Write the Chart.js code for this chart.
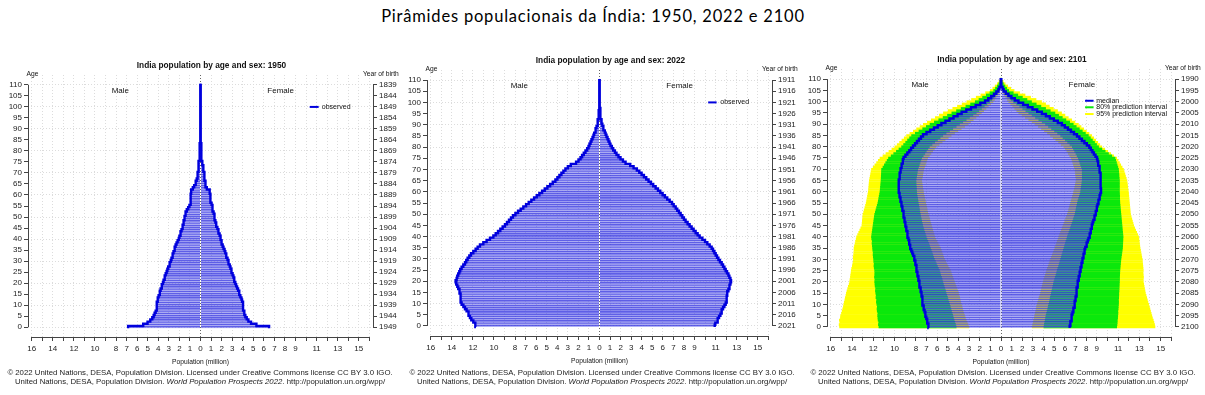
<!DOCTYPE html>
<html lang="pt">
<head>
<meta charset="utf-8">
<title>Pirâmides populacionais da Índia</title>
<script src="https://cdn.jsdelivr.net/npm/chart.js@4.4.1/dist/chart.umd.min.js"></script>
<style>
  html,body{margin:0;padding:0;background:#fff}
  body{position:relative;width:1205px;height:395px;overflow:hidden;font-family:"Liberation Sans",Arial,sans-serif;color:#222}
  #mainTitle{position:absolute;top:6px;left:0;width:1186px;text-align:center;font:16.5px Lato,"Open Sans",sans-serif;letter-spacing:0.8px;color:#000;white-space:nowrap}
  canvas{position:absolute}
  .foot{position:absolute;top:368px;width:420px;text-align:center;font-size:7.8px;line-height:9px;color:#222;white-space:nowrap}
</style>
</head>
<body>
<div id="mainTitle">Pirâmides populacionais da Índia: 1950, 2022 e 2100</div>
<canvas id="c1950"></canvas>
<canvas id="c2022"></canvas>
<canvas id="c2101"></canvas>
<div class="foot" style="left:-10px">© 2022 United Nations, DESA, Population Division. Licensed under Creative Commons license CC BY 3.0 IGO.<br>United Nations, DESA, Population Division. <i>World Population Prospects 2022</i>. http://population.un.org/wpp/</div>
<div class="foot" style="left:392px">© 2022 United Nations, DESA, Population Division. Licensed under Creative Commons license CC BY 3.0 IGO.<br>United Nations, DESA, Population Division. <i>World Population Prospects 2022</i>. http://population.un.org/wpp/</div>
<div class="foot" style="left:793px">© 2022 United Nations, DESA, Population Division. Licensed under Creative Commons license CC BY 3.0 IGO.<br>United Nations, DESA, Population Division. <i>World Population Prospects 2022</i>. http://population.un.org/wpp/</div>
<script>
/* ---------- dados (milhões, idades simples 0..110) ---------- */
const ageTicks = [0,5,10,15,20,25,30,35,40,45,50,55,60,65,70,75,80,85,90,95,100,105,110];
const xTickValues = [-16,-15,-14,-13,-12,-11,-10,-9,-8,-7,-6,-5,-4,-3,-2,-1,0,1,2,3,4,5,6,7,8,9,10,11,12,13,14,15,16];
const xTickLabels = ['16','','14','','12','','10','','8','7','6','5','4','3','2','1','0','1','2','3','4','5','6','7','8','9','','11','','13','','15',''];

const male1950 = [
6.86,5.43,5.02,4.76,4.57,4.44,4.35,4.25,4.19,4.16,
4.13,4.13,4.10,4.03,3.97,3.90,3.84,3.78,3.71,3.65,
3.56,3.50,3.44,3.37,3.30,3.21,3.14,3.06,2.98,2.90,
2.82,2.75,2.69,2.62,2.56,2.49,2.43,2.36,2.27,2.17,
2.06,2.00,1.94,1.87,1.80,1.73,1.68,1.63,1.59,1.54,
1.50,1.45,1.40,1.30,1.17,1.05,0.99,0.95,0.93,0.92,
0.91,0.90,0.88,0.73,0.60,0.51,0.43,0.36,0.32,0.28,
0.25,0.23,0.21,0.19,0.17,0.16,0.14,0.12,0.10,0.08,
0.07,0.06,0.055,0.05,0.045,0.04,0.035,0.03,0.025,0.02,
0.018,0.015,0.012,0.01,0.008,0.007,0.006,0.005,0.004,0.003,
0.003,0.002,0.002,0.002,0.001,0.001,0.001,0.001,0.001,0.001,
0.001];
const female1950 = [
6.50,5.30,4.79,4.54,4.38,4.25,4.20,4.13,4.05,4.03,
4.03,4.03,3.94,3.88,3.78,3.72,3.65,3.56,3.47,3.38,
3.30,3.24,3.18,3.12,3.04,2.98,2.91,2.84,2.77,2.70,
2.63,2.56,2.49,2.42,2.35,2.28,2.18,2.10,2.03,1.98,
1.94,1.88,1.81,1.74,1.68,1.60,1.53,1.47,1.41,1.37,
1.33,1.30,1.24,1.18,1.14,1.11,1.05,0.98,0.95,0.93,
0.92,0.89,0.86,0.60,0.52,0.48,0.44,0.41,0.38,0.36,
0.35,0.31,0.28,0.24,0.20,0.16,0.14,0.12,0.10,0.08,
0.07,0.06,0.055,0.05,0.045,0.04,0.035,0.03,0.025,0.02,
0.018,0.015,0.012,0.01,0.008,0.007,0.006,0.005,0.004,0.003,
0.003,0.002,0.002,0.002,0.001,0.001,0.001,0.001,0.001,0.001,
0.001];

const male2022 = [
11.71,11.80,11.96,12.15,12.28,12.37,12.44,12.60,12.75,12.90,
13.07,13.13,13.16,13.16,13.20,13.23,13.29,13.39,13.48,13.58,
13.64,13.54,13.48,13.39,13.29,13.20,13.07,12.91,12.75,12.63,
12.50,12.34,12.18,11.96,11.74,11.55,11.33,11.01,10.70,10.38,
10.06,9.84,9.62,9.40,9.18,8.96,8.77,8.58,8.39,8.20,
7.97,7.72,7.47,7.22,6.96,6.71,6.46,6.20,5.95,5.70,
5.44,5.19,4.94,4.68,4.43,4.18,3.99,3.80,3.61,3.42,
3.23,3.00,2.72,2.22,1.99,1.80,1.65,1.49,1.33,1.17,
1.04,0.95,0.85,0.76,0.66,0.57,0.50,0.42,0.35,0.28,
0.22,0.18,0.15,0.12,0.09,0.07,0.055,0.04,0.03,0.022,
0.016,0.012,0.009,0.006,0.004,0.003,0.002,0.002,0.001,0.001,
0.001];
const female2022 = [
10.92,10.98,11.14,11.23,11.33,11.46,11.52,11.61,11.71,11.84,
11.96,12.03,12.06,12.06,12.09,12.12,12.22,12.28,12.34,12.41,
12.47,12.41,12.31,12.22,12.09,11.96,11.84,11.71,11.58,11.42,
11.27,11.14,11.01,10.89,10.76,10.63,10.44,10.22,10.00,9.75,
9.49,9.30,9.11,8.92,8.73,8.54,8.35,8.16,8.00,7.85,
7.69,7.53,7.37,7.22,7.03,6.87,6.65,6.42,6.20,5.98,
5.76,5.54,5.32,5.09,4.87,4.65,4.43,4.21,3.99,3.77,
3.54,3.23,2.91,2.47,2.22,1.99,1.80,1.61,1.46,1.30,
1.17,1.04,0.95,0.85,0.76,0.66,0.58,0.50,0.42,0.34,
0.27,0.22,0.18,0.14,0.11,0.085,0.065,0.05,0.037,0.027,
0.020,0.014,0.010,0.007,0.005,0.003,0.002,0.002,0.001,0.001,
0.001];

/* 2101: mediana e intervalos de predição */
const maleMed2101 = [
6.79,6.84,6.90,6.95,7.02,7.08,7.12,7.18,7.24,7.28,
7.33,7.36,7.40,7.42,7.45,7.48,7.52,7.57,7.62,7.66,
7.70,7.73,7.78,7.82,7.87,7.90,7.93,7.98,8.02,8.06,
8.10,8.17,8.26,8.34,8.43,8.50,8.55,8.60,8.64,8.70,
8.74,8.78,8.83,8.87,8.91,8.96,9.00,9.04,9.08,9.12,
9.15,9.19,9.24,9.28,9.32,9.37,9.42,9.46,9.51,9.55,
9.60,9.61,9.62,9.62,9.61,9.60,9.57,9.53,9.50,9.46,
9.43,9.38,9.32,9.26,9.21,9.15,8.98,8.80,8.62,8.45,
8.27,8.08,7.90,7.71,7.52,7.33,7.00,6.65,6.30,5.95,
5.60,5.22,4.84,4.46,4.08,3.70,3.26,2.82,2.38,1.94,
1.50,1.20,0.92,0.66,0.44,0.25,0.15,0.08,0.04,0.02,
0.01];
const femaleMed2101 = [
6.45,6.49,6.54,6.58,6.63,6.67,6.72,6.77,6.82,6.87,
6.92,6.95,6.98,7.02,7.05,7.08,7.11,7.14,7.17,7.20,
7.23,7.27,7.32,7.36,7.41,7.45,7.49,7.54,7.58,7.63,
7.67,7.72,7.77,7.82,7.87,7.92,8.00,8.07,8.15,8.22,
8.30,8.35,8.40,8.45,8.50,8.55,8.61,8.68,8.74,8.81,
8.87,8.92,8.97,9.02,9.07,9.12,9.18,9.23,9.29,9.34,
9.40,9.40,9.39,9.39,9.38,9.37,9.35,9.33,9.32,9.30,
9.28,9.23,9.17,9.12,9.07,9.02,8.88,8.73,8.59,8.44,
8.30,8.07,7.84,7.60,7.37,7.14,6.86,6.57,6.29,6.00,
5.72,5.34,4.97,4.59,4.22,3.84,3.40,2.96,2.52,2.08,
1.64,1.30,0.98,0.70,0.45,0.25,0.15,0.08,0.04,0.02,
0.01];
const maleLo95 = [
2.99,3.07,3.15,3.24,3.32,3.40,3.46,3.52,3.58,3.64,
3.70,3.75,3.80,3.86,3.91,3.96,4.04,4.11,4.19,4.26,
4.34,4.42,4.49,4.57,4.64,4.72,4.83,4.94,5.06,5.17,
5.28,5.36,5.43,5.51,5.58,5.66,5.77,5.88,5.98,6.09,
6.20,6.26,6.32,6.38,6.44,6.50,6.56,6.62,6.68,6.74,
6.80,6.85,6.90,6.94,6.99,7.04,7.08,7.13,7.17,7.22,
7.26,7.29,7.33,7.36,7.39,7.42,7.38,7.34,7.31,7.27,
7.23,7.16,7.08,7.01,6.93,6.86,6.70,6.55,6.39,6.23,
6.07,5.79,5.50,5.22,4.93,4.65,4.34,4.02,3.71,3.39,
3.08,2.83,2.58,2.32,2.07,1.82,1.60,1.38,1.16,0.94,
0.72,0.58,0.44,0.32,0.20,0.10,0.06,0.03,0.02,0.01,
0.0];
const femaleLo95 = [
2.90,2.95,3.00,3.04,3.09,3.14,3.18,3.23,3.27,3.32,
3.36,3.42,3.49,3.55,3.62,3.68,3.73,3.78,3.83,3.88,
3.93,3.99,4.06,4.12,4.19,4.25,4.32,4.40,4.47,4.55,
4.62,4.70,4.79,4.87,4.95,5.03,5.10,5.18,5.25,5.33,
5.40,5.48,5.56,5.64,5.72,5.80,5.88,5.96,6.04,6.12,
6.20,6.26,6.32,6.38,6.44,6.50,6.56,6.62,6.68,6.74,
6.80,6.85,6.90,6.94,6.99,7.04,7.02,6.99,6.97,6.94,
6.92,6.85,6.78,6.71,6.64,6.57,6.43,6.29,6.16,6.02,
5.88,5.63,5.38,5.12,4.87,4.62,4.34,4.05,3.77,3.48,
3.20,2.89,2.58,2.26,1.95,1.64,1.45,1.26,1.08,0.89,
0.70,0.56,0.42,0.30,0.19,0.10,0.06,0.03,0.02,0.01,
0.0];
const maleLo80 = [
4.18,4.24,4.31,4.37,4.44,4.50,4.56,4.62,4.68,4.74,
4.80,4.86,4.93,4.99,5.06,5.12,5.18,5.25,5.31,5.38,
5.44,5.50,5.56,5.63,5.69,5.75,5.85,5.94,6.04,6.13,
6.23,6.30,6.38,6.45,6.53,6.60,6.68,6.76,6.84,6.92,
7.00,7.07,7.13,7.20,7.26,7.33,7.37,7.42,7.46,7.51,
7.55,7.59,7.63,7.66,7.70,7.74,7.77,7.80,7.84,7.87,
7.90,7.91,7.92,7.94,7.95,7.96,7.93,7.90,7.86,7.83,
7.80,7.72,7.65,7.57,7.50,7.42,7.28,7.13,6.99,6.84,
6.70,6.45,6.20,5.94,5.69,5.44,5.13,4.81,4.50,4.18,
3.87,3.56,3.24,2.93,2.61,2.30,2.05,1.80,1.54,1.29,
1.04,0.85,0.66,0.48,0.33,0.20,0.12,0.07,0.04,0.02,
0.01];
const femaleLo80 = [
4.00,4.04,4.08,4.12,4.16,4.20,4.25,4.30,4.36,4.41,
4.46,4.51,4.56,4.60,4.65,4.70,4.75,4.80,4.84,4.89,
4.94,5.00,5.06,5.13,5.19,5.25,5.31,5.38,5.44,5.51,
5.57,5.63,5.69,5.76,5.82,5.88,5.94,6.01,6.07,6.14,
6.20,6.27,6.35,6.42,6.50,6.57,6.64,6.71,6.78,6.85,
6.92,6.96,7.01,7.05,7.10,7.14,7.20,7.26,7.33,7.39,
7.45,7.48,7.51,7.54,7.57,7.60,7.60,7.60,7.60,7.60,
7.60,7.53,7.45,7.38,7.30,7.23,7.12,7.01,6.89,6.78,
6.67,6.45,6.23,6.01,5.79,5.57,5.29,5.00,4.72,4.43,
4.15,3.84,3.52,3.21,2.89,2.58,2.30,2.01,1.73,1.44,
1.16,0.94,0.73,0.53,0.36,0.20,0.12,0.07,0.04,0.02,
0.01];
const maleHi80 = [
11.50,11.55,11.52,11.58,11.60,11.62,11.60,11.66,11.68,11.65,
11.70,11.74,11.72,11.78,11.76,11.80,11.83,11.81,11.86,11.88,
11.90,11.88,11.92,11.90,11.89,11.90,11.94,11.97,11.95,11.99,
12.00,12.03,12.05,12.04,12.08,12.10,12.12,12.15,12.13,12.18,
12.20,12.17,12.14,12.11,12.08,12.05,12.02,11.99,11.96,11.93,
11.90,11.84,11.78,11.72,11.66,11.60,11.56,11.52,11.48,11.44,
11.40,11.38,11.36,11.34,11.32,11.30,11.29,11.28,11.27,11.26,
11.25,11.12,10.99,10.86,10.73,10.60,10.35,10.11,9.86,9.62,
9.37,9.18,8.99,8.81,8.62,8.43,8.08,7.74,7.39,7.05,
6.70,6.29,5.88,5.47,5.06,4.65,4.21,3.77,3.33,2.89,
2.45,2.10,1.76,1.41,1.07,0.72,0.55,0.38,0.24,0.12,
0.05];
const femaleHi80 = [
10.90,10.93,10.95,10.96,10.99,11.00,11.02,11.01,11.04,11.05,
11.07,11.08,11.07,11.09,11.10,11.10,11.12,11.13,11.14,11.15,
11.16,11.17,11.17,11.18,11.19,11.20,11.22,11.24,11.26,11.28,
11.30,11.33,11.36,11.39,11.42,11.45,11.46,11.47,11.48,11.49,
11.50,11.48,11.46,11.44,11.42,11.40,11.38,11.36,11.34,11.32,
11.30,11.28,11.26,11.24,11.22,11.20,11.19,11.18,11.18,11.17,
11.16,11.16,11.16,11.16,11.16,11.16,11.14,11.12,11.11,11.09,
11.07,11.01,10.94,10.88,10.81,10.75,10.44,10.13,9.82,9.51,
9.20,9.01,8.82,8.62,8.43,8.24,7.96,7.67,7.39,7.10,
6.82,6.48,6.13,5.79,5.44,5.10,4.66,4.22,3.78,3.34,
2.90,2.47,2.04,1.61,1.18,0.75,0.57,0.40,0.25,0.13,
0.05];
const maleHi95 = [
15.20,15.24,15.18,15.22,15.12,15.10,15.02,14.96,14.90,14.84,
14.80,14.76,14.70,14.66,14.60,14.56,14.50,14.44,14.38,14.30,
14.25,14.22,14.18,14.16,14.12,14.10,14.06,14.00,13.96,13.92,
13.90,13.92,13.88,13.86,13.84,13.84,13.80,13.74,13.70,13.64,
13.60,13.50,13.40,13.30,13.20,13.10,13.08,13.06,13.04,13.02,
13.00,12.94,12.88,12.82,12.76,12.70,12.66,12.62,12.58,12.54,
12.50,12.48,12.46,12.44,12.42,12.40,12.36,12.32,12.28,12.24,
12.20,12.04,11.88,11.72,11.56,11.40,11.12,10.84,10.56,10.28,
10.00,9.78,9.56,9.34,9.12,8.90,8.59,8.27,7.96,7.64,
7.33,6.95,6.58,6.20,5.82,5.44,5.00,4.56,4.12,3.68,
3.24,2.80,2.36,1.92,1.48,1.04,0.80,0.58,0.38,0.22,
0.10];
const femaleHi95 = [
14.50,14.46,14.40,14.34,14.26,14.20,14.14,14.08,14.02,13.96,
13.90,13.84,13.78,13.72,13.66,13.60,13.56,13.52,13.48,13.44,
13.40,13.40,13.42,13.40,13.38,13.40,13.38,13.36,13.34,13.32,
13.30,13.26,13.22,13.18,13.14,13.10,13.07,13.04,13.02,12.99,
12.96,12.87,12.78,12.68,12.59,12.50,12.44,12.38,12.32,12.26,
12.20,12.18,12.16,12.14,12.12,12.10,12.08,12.06,12.04,12.02,
12.00,11.97,11.94,11.92,11.89,11.86,11.80,11.73,11.67,11.60,
11.54,11.41,11.28,11.16,11.03,10.90,10.62,10.34,10.06,9.78,
9.50,9.31,9.12,8.93,8.74,8.55,8.30,8.05,7.80,7.55,
7.30,6.98,6.67,6.35,6.04,5.72,5.34,4.95,4.57,4.22,
3.84,3.32,2.81,2.29,1.78,1.26,0.95,0.66,0.42,0.24,
0.10];

/* ---------- cores ---------- */
const BAR_FILL  = 'rgba(100,100,235,0.5)';
const BAR_EDGE  = 'rgba(40,40,220,0.75)';
const LINE_BLUE = '#0000dd';
const GREEN     = '#0be80b';
const YELLOW    = '#ffff00';
const FONT      = '"Liberation Sans", Arial, sans-serif';

Chart.defaults.font.family = FONT;
Chart.defaults.font.size   = 8;
Chart.defaults.color       = '#222';

/* ---------- datasets ---------- */
function bars(vals, sign, order){
  return {type:'bar', data: vals.map((v,a)=>({y:a, x:sign*v})),
          backgroundColor:BAR_FILL, borderColor:BAR_EDGE, borderSkipped:false,
          borderWidth:{top:0.9, right:0, bottom:0, left:0},
          barPercentage:1, categoryPercentage:1, order};
}
function band(lo, hi, sign, color, order){
  return {type:'bar', data: lo.map((v,a)=>({y:a, x: sign>0 ? [lo[a],hi[a]] : [-hi[a],-lo[a]]})),
          backgroundColor:color, borderWidth:0, barPercentage:1.15, categoryPercentage:1, order};
}
function outline(vals, sign){
  return {type:'line', data: vals.flatMap((v,a)=>[{x:sign*v, y:a-0.5},{x:sign*v, y:a+0.5}]),
          borderColor:LINE_BLUE, borderWidth:2.4, pointRadius:0, tension:0, order:0};
}

/* ---------- decoração (títulos, eixos R, legenda) ---------- */
const decor = {
  id:'decor',
  afterDraw(chart, _args, o){
    const {ctx, chartArea:ca} = chart;
    const X = v => chart.scales.x.getPixelForValue(v), Y = v => chart.scales.y.getPixelForValue(v);
    ctx.save();
    ctx.strokeStyle = '#444'; ctx.lineWidth = 1;
    const lx = Math.round(ca.left)+0.5, rx = Math.round(ca.right)+0.5, by = Math.round(ca.bottom)+0.5;
    ctx.beginPath();
    ctx.moveTo(lx, Y(0)); ctx.lineTo(lx, Y(110));
    ctx.moveTo(rx, Y(0)); ctx.lineTo(rx, Y(110));
    ctx.moveTo(X(-16), by); ctx.lineTo(X(16), by);
    ctx.stroke();

    ctx.fillStyle = '#111'; ctx.textBaseline = 'middle'; ctx.textAlign = 'center';
    ctx.font = 'bold 8.3px '+FONT;
    ctx.fillText(o.title, X(0)+11, Y(118.5));
    ctx.font = '8px '+FONT;
    ctx.fillText('Male', X(-7.6), Y(107.5));
    ctx.fillText('Female', X(7.6), Y(107.5));
    ctx.font = '6.7px '+FONT;
    ctx.fillText('Population (million)', X(0), ca.bottom+25);
    ctx.textAlign = 'left';
    ctx.fillText('Age', ca.left-1.5, Y(114.8));
    ctx.fillText('Year of birth', ca.right-10, Y(114.8));

    ctx.font = '7px '+FONT;
    o.legend.forEach(it=>{
      const yy = Y(it.age);
      ctx.strokeStyle = it.color; ctx.lineWidth = 2;
      ctx.beginPath(); ctx.moveTo(X(o.lx0), yy); ctx.lineTo(X(o.lx1), yy); ctx.stroke();
      ctx.fillStyle = '#111';
      ctx.fillText(it.label, X(o.tx), yy);
    });
    ctx.restore();
  }
};

function makePyramid(id, area, datasets, birthBase, opts){
  const cv = document.getElementById(id);
  const LW = 28, RW = 45, TOP = 30, XH = 32;
  cv.width  = (area.r-area.l)+LW+RW;
  cv.height = (area.b-area.t)+TOP+XH;
  cv.style.left = (area.l-LW)+'px';
  cv.style.top  = (area.t-TOP)+'px';
  const ageScale = {
    type:'linear', min:-4.5, max:114.5, offset:false,
    afterBuildTicks: s => { s.ticks = ageTicks.map(v=>({value:v})); },
    border:{display:false, dash:[1,2]},
    ticks:{autoSkip:false, padding:2, font:{size:8}}
  };
  return new Chart(cv, {
    type:'bar',
    data:{datasets},
    options:{
      indexAxis:'y', responsive:false, animation:false, events:[],
      layout:{padding:{top:TOP, left:0, right:0, bottom:0}},
      datasets:{bar:{grouped:false}},
      plugins:{legend:{display:false}, title:{display:false}, tooltip:{enabled:false}, decor:opts},
      scales:{
        x:{type:'linear', min:-16.35, max:16.35,
           afterBuildTicks: s => { s.ticks = xTickValues.map(v=>({value:v})); },
           afterFit: s => { s.height = XH; },
           grid:{color: c => (c.tick && c.tick.value===0) ? '#666' : '#dcdcdc', tickColor:'#444', tickLength:4},
           border:{display:false, dash:[1,2]},
           ticks:{autoSkip:false, maxRotation:0, padding:3, callback:(v,i)=>xTickLabels[i]}},
        y:{...ageScale, position:'left',
           afterFit: s => { s.width = LW; },
           grid:{offset:false, color: c => (c.tick && c.tick.value%10===0) ? '#dcdcdc' : 'rgba(0,0,0,0)', tickColor:'#444', tickLength:4},
           ticks:{...ageScale.ticks, callback:v=>String(v)}},
        y2:{...ageScale, position:'right',
           afterFit: s => { s.width = RW; },
           grid:{offset:false, drawOnChartArea:false, tickColor:'#444', tickLength:4},
           ticks:{...ageScale.ticks, callback:v=>String(birthBase-v)}}
      }
    },
    plugins:[decor]
  });
}

const observedLegend = [{label:'observed', color:LINE_BLUE, age:100}];

makePyramid('c1950', {l:28, r:373, t:75, b:337}, [
  outline(male1950,-1), outline(female1950,1),
  bars(male1950,-1,1), bars(female1950,1,1)
], 1949, {title:'India population by age and sex: 1950', legend:observedLegend, lx0:10.35, lx1:11.2, tx:11.5});

makePyramid('c2022', {l:427, r:772, t:70, b:336}, [
  outline(male2022,-1), outline(female2022,1),
  bars(male2022,-1,1), bars(female2022,1,1)
], 2021, {title:'India population by age and sex: 2022', legend:observedLegend, lx0:10.3, lx1:11.1, tx:11.45});

makePyramid('c2101', {l:827, r:1175, t:69, b:337}, [
  outline(maleMed2101,-1), outline(femaleMed2101,1),
  bars(maleMed2101,-1,1), bars(femaleMed2101,1,1),
  band(maleLo80, maleHi80, -1, GREEN, 2), band(femaleLo80, femaleHi80, 1, GREEN, 2),
  band(maleLo95, maleHi95, -1, YELLOW, 3), band(femaleLo95, femaleHi95, 1, YELLOW, 3)
], 2100, {title:'India population by age and sex: 2101',
  legend:[{label:'median', color:LINE_BLUE, age:100.4},
          {label:'80% prediction interval', color:GREEN, age:97.5},
          {label:'95% prediction interval', color:YELLOW, age:94.5}],
  lx0:7.9, lx1:8.7, tx:8.95});
</script>
</body>
</html>
